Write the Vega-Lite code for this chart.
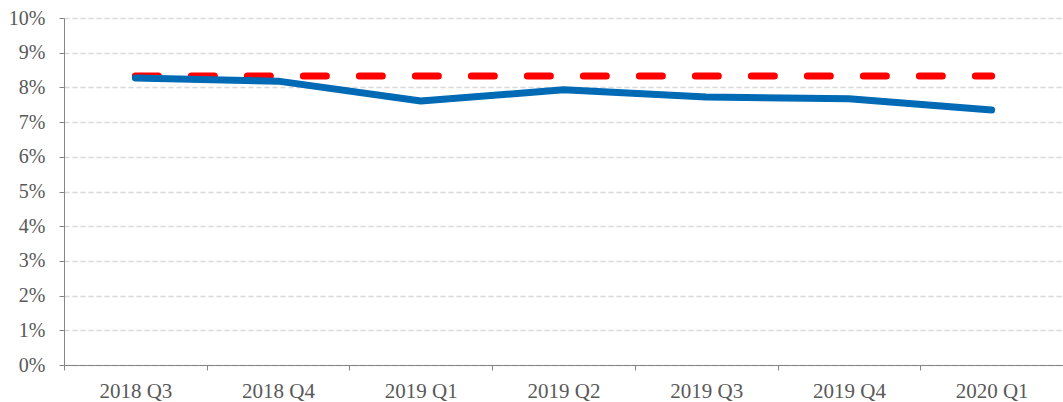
{
  "$schema": "https://vega.github.io/schema/vega-lite/v6.json",
  "autosize": "none",
  "width": 999,
  "height": 347,
  "padding": {"left": 64, "top": 18, "right": 0, "bottom": 37},
  "background": "white",
  "config": {
    "view": {"stroke": null},
    "axis": {
      "labelFont": "Liberation Serif",
      "labelFontSize": 20,
      "labelColor": "#595959",
      "labelOverlap": false,
      "domainColor": "#868686",
      "tickColor": "#868686",
      "tickSize": 5,
      "title": null
    }
  },
  "data": {
    "values": [
      {"quarter": "2018 Q3", "rate": 8.27, "target": 8.33},
      {"quarter": "2018 Q4", "rate": 8.18, "target": 8.33},
      {"quarter": "2019 Q1", "rate": 7.61, "target": 8.33},
      {"quarter": "2019 Q2", "rate": 7.93, "target": 8.33},
      {"quarter": "2019 Q3", "rate": 7.72, "target": 8.33},
      {"quarter": "2019 Q4", "rate": 7.67, "target": 8.33},
      {"quarter": "2020 Q1", "rate": 7.35, "target": 8.33}
    ]
  },
  "encoding": {
    "x": {
      "field": "quarter",
      "type": "ordinal",
      "scale": {"type": "band", "paddingInner": 0, "paddingOuter": 0},
      "axis": {"labelAngle": 0, "labelFontSize": 21, "tickBand": "extent", "labelPadding": 10, "grid": false, "labelFlush": false}
    },
    "y": {
      "field": "target",
      "type": "quantitative",
      "scale": {"domain": [0, 10]},
      "axis": {
        "values": [0, 1, 2, 3, 4, 5, 6, 7, 8, 9, 10],
        "tickCount": 11,
        "labelExpr": "datum.value + '%'",
        "labelPadding": 14,
        "labelFlush": false,
        "grid": true,
        "gridColor": "#d9d9d9",
        "gridDash": [5, 3],
        "gridWidth": 1.3
      }
    }
  },
  "layer": [
    {
      "mark": {"type": "line", "color": "#ff0000", "strokeWidth": 7, "strokeDash": [23, 33], "strokeCap": "round"}
    },
    {
      "mark": {"type": "line", "color": "#006ab5", "strokeWidth": 7, "strokeCap": "round", "strokeJoin": "round"},
      "encoding": {
        "y": {"field": "rate", "type": "quantitative"}
      }
    }
  ]
}
